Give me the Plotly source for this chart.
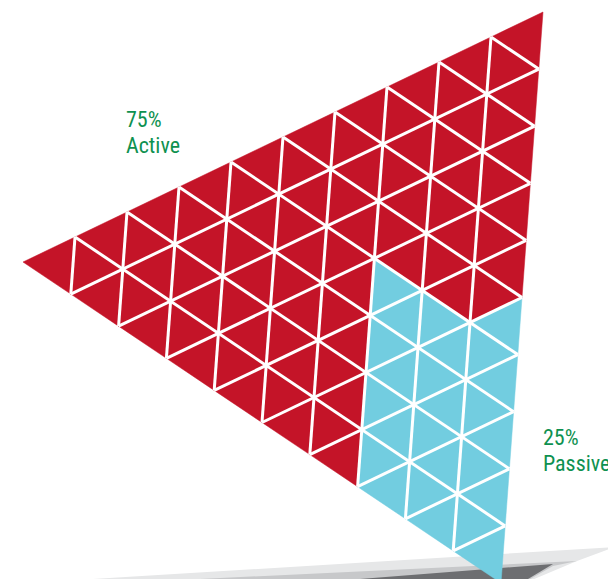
import plotly.graph_objects as go

# ---- data ----
labels = ["Active", "Passive"]
shares = [75, 25]                       # percent
grid_n = 10                             # subdivisions per side -> 100 cells
passive_columns = [7, 8, 9]             # grid columns holding passive cells
passive_per_column = [8, 8, 9]          # cells filled from the bottom of each column

# ---- style / layout ----
W, H = 608, 579
RED = "#C41428"
BLUE = "#72CDE0"
GREEN = "#0E9150"
B = (23.0, 262.0)   # left vertex
A = (543.0, 12.0)   # top-right vertex
C = (501.0, 583.0)  # bottom vertex

u = ((A[0] - B[0]) / grid_n, (A[1] - B[1]) / grid_n)
v = ((C[0] - B[0]) / grid_n, (C[1] - B[1]) / grid_n)


def P(i, j):
    return (B[0] + i * u[0] + j * v[0], B[1] + i * u[1] + j * v[1])


# build cells
cells = []
for i in range(grid_n):
    for j in range(grid_n - i):
        cells.append({"pts": [P(i, j), P(i + 1, j), P(i, j + 1)],
                      "ci": i + 1 / 3, "cj": j + 1 / 3})
        if i + j <= grid_n - 2:
            cells.append({"pts": [P(i + 1, j), P(i, j + 1), P(i + 1, j + 1)],
                          "ci": i + 2 / 3, "cj": j + 2 / 3})

passive = set()
for col, cnt in zip(passive_columns, passive_per_column):
    idx = [k for k, c in enumerate(cells) if col < c["ci"] + c["cj"] < col + 1]
    idx.sort(key=lambda k: cells[k]["ci"])
    passive.update(idx[:cnt])


def poly_xy(indices):
    xs, ys = [], []
    for k in indices:
        pts = cells[k]["pts"]
        for p in pts + [pts[0]]:
            xs.append(p[0]); ys.append(p[1])
        xs.append(None); ys.append(None)
    return xs, ys


fig = go.Figure()

# shadow
shadows = [
    ("#E6E7E8", [(93, 579), (615, 547), (577, 561), (520, 585), (93, 585)]),
    ("#C7C8CA", [(200, 579), (577, 561), (553, 566), (520, 585), (200, 585)]),
    ("#6D6E71", [(360, 579), (553, 564), (518, 585), (360, 585)]),
]
for col, pts in shadows:
    fig.add_trace(go.Scatter(x=[p[0] for p in pts] + [pts[0][0]],
                             y=[p[1] for p in pts] + [pts[0][1]],
                             mode="lines", fill="toself", fillcolor=col,
                             line=dict(width=0, color=col), hoverinfo="skip",
                             showlegend=False))

active_idx = [k for k in range(len(cells)) if k not in passive]
for idx, col, name in [(active_idx, RED, labels[0]), (sorted(passive), BLUE, labels[1])]:
    xs, ys = poly_xy(idx)
    fig.add_trace(go.Scatter(x=xs, y=ys, mode="lines", fill="toself",
                             fillcolor=col, line=dict(width=0.5, color=col),
                             name=name, hoverinfo="skip", showlegend=False))

# white grid lines
lx, ly = [], []
for t in range(1, grid_n):
    for a, b in [(P(t, 0), P(t, grid_n - t)), (P(0, t), P(grid_n - t, t)), (P(t, 0), P(0, t))]:
        lx += [a[0], b[0], None]; ly += [a[1], b[1], None]
fig.add_trace(go.Scatter(x=lx, y=ly, mode="lines", line=dict(color="white", width=3),
                         hoverinfo="skip", showlegend=False))

font = dict(family="Liberation Sans Narrow, Roboto Condensed, Roboto, sans-serif", size=22, color=GREEN)
texts = [
    (f"{shares[0]}%", 125, 119),
    (labels[0], 125, 145),
    (f"{shares[1]}%", 542, 437),
    (labels[1], 542, 463),
]
for t, x, y in texts:
    fig.add_annotation(x=x, y=y, text=t, showarrow=False, xanchor="left",
                       yanchor="middle", font=font, borderpad=0)

fig.update_layout(
    width=W, height=H, autosize=False,
    margin=dict(l=0, r=0, t=0, b=0, pad=0),
    paper_bgcolor="white", plot_bgcolor="white",
    xaxis=dict(range=[0, W], visible=False, fixedrange=True),
    yaxis=dict(range=[H, 0], visible=False, fixedrange=True),
)
fig.write_html("out.html")
